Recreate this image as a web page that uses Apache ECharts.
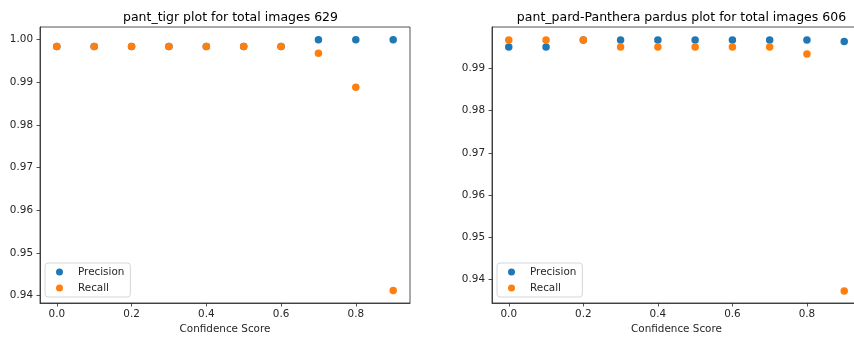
<!DOCTYPE html>
<html>
  <head>
    <title></title>
    <meta charset="UTF-8" />
    <script src="https://cdn.jsdelivr.net/npm/echarts@6/dist/echarts.min.js"></script>
  </head>
  <body style="margin:0">
    <div id="main"></div>
    <script>
      const width = 854;
      const height = 338;
      const main = document.getElementById('main');
      main.style.width = `${width}px`;
      main.style.height = `${height}px`;

      // data
      const confidence = [0.0, 0.1, 0.2, 0.3, 0.4, 0.5, 0.6, 0.7, 0.8, 0.9];
      const tigrPrecision = [0.99841, 0.99841, 0.99841, 0.99841, 0.99841, 0.99841, 0.99841, 1.0, 1.0, 1.0];
      const tigrRecall = [0.99841, 0.99841, 0.99841, 0.99841, 0.99841, 0.99841, 0.99841, 0.99682, 0.98887, 0.94118];
      const pardPrecision = [0.99505, 0.99505, 0.9967, 0.9967, 0.9967, 0.9967, 0.9967, 0.9967, 0.9967, 0.99637];
      const pardRecall = [0.9967, 0.9967, 0.9967, 0.99505, 0.99505, 0.99505, 0.99505, 0.99505, 0.9934, 0.93729];
      const xTicks = [0.0, 0.2, 0.4, 0.6, 0.8];
      const tigrYTicks = [0.94, 0.95, 0.96, 0.97, 0.98, 0.99, 1.0];
      const pardYTicks = [0.94, 0.95, 0.96, 0.97, 0.98, 0.99];
      const titles = ['pant_tigr plot for total images 629', 'pant_pard-Panthera pardus plot for total images 606'];

      const BLUE = '#1f77b4';
      const ORANGE = '#ff7f0e';
      const FONT = 'DejaVu Sans';
      const INK = '#262626';

      const pairs = (ys) => confidence.map((x, i) => [x, ys[i]]);

      const xAxis = (gridIndex) => ({
        type: 'value',
        gridIndex,
        min: -0.045,
        max: 0.945,
        name: 'Confidence Score',
        nameLocation: 'middle',
        nameGap: 21,
        nameTextStyle: { fontFamily: FONT, fontSize: 10.4, color: INK },
        splitLine: { show: false },
        axisLine: { show: true, onZero: false, lineStyle: { color: INK, width: 0.8 } },
        axisTick: { show: true, length: 3.5, lineStyle: { color: INK, width: 0.8 }, customValues: xTicks },
        axisLabel: {
          fontFamily: FONT, fontSize: 10.4, color: INK, margin: 6,
          customValues: xTicks,
          formatter: (v) => v.toFixed(1),
        },
      });

      const yAxis = (gridIndex, min, max, ticks) => ({
        type: 'value',
        gridIndex,
        min, max,
        scale: true,
        splitLine: { show: false },
        axisLine: { show: true, onZero: false, lineStyle: { color: INK, width: 0.8 } },
        axisTick: { show: true, length: 3.5, lineStyle: { color: INK, width: 0.8 }, customValues: ticks },
        axisLabel: {
          fontFamily: FONT, fontSize: 10.4, color: INK, margin: 7,
          customValues: ticks,
          formatter: (v) => v.toFixed(2),
        },
      });

      const legend = (left) => ({
        orient: 'vertical',
        left, top: 263,
        icon: 'circle',
        itemWidth: 7,
        itemHeight: 7,
        itemGap: 2,
        padding: [2, 6, 2, 11],
        borderColor: '#cccccc',
        borderWidth: 0.8,
        borderRadius: 3,
        backgroundColor: 'rgba(255,255,255,0.8)',
        textStyle: { fontFamily: FONT, fontSize: 10.4, color: INK, lineHeight: 14, padding: [0, 0, 0, 10] },
        data: ['Precision', 'Recall'],
      });

      const scatter = (name, ys, idx, color) => ({
        name, type: 'scatter',
        xAxisIndex: idx, yAxisIndex: idx,
        symbolSize: 7.5,
        itemStyle: { color, opacity: 1 },
        data: pairs(ys),
      });

      const myChart = echarts.init(main);
      const option = {
        animation: false,
        backgroundColor: '#fff',
        title: [
          { text: titles[0], left: 225.5, top: 6, textAlign: 'center',
            textStyle: { fontFamily: FONT, fontSize: 12.5, fontWeight: 'normal', color: '#000' } },
          { text: titles[1], left: 676.5, top: 6, textAlign: 'center',
            textStyle: { fontFamily: FONT, fontSize: 12.5, fontWeight: 'normal', color: '#000' } },
        ],
        grid: [
          { left: 40, top: 27, width: 370, height: 276, show: true, borderColor: INK, borderWidth: 0.8, outerBoundsMode: 'none' },
          { left: 492, top: 27, width: 369, height: 276, show: true, borderColor: INK, borderWidth: 0.8, outerBoundsMode: 'none' },
        ],
        xAxis: [xAxis(0), xAxis(1)],
        yAxis: [yAxis(0, 0.93826, 1.00298, tigrYTicks), yAxis(1, 0.93446, 0.99979, pardYTicks)],
        legend: [legend(45), legend(497)],
        series: [
          scatter('Precision', tigrPrecision, 0, BLUE),
          scatter('Recall', tigrRecall, 0, ORANGE),
          scatter('Precision', pardPrecision, 1, BLUE),
          scatter('Recall', pardRecall, 1, ORANGE),
        ],
      };
      myChart.setOption(option);
    </script>
  </body>
</html>
